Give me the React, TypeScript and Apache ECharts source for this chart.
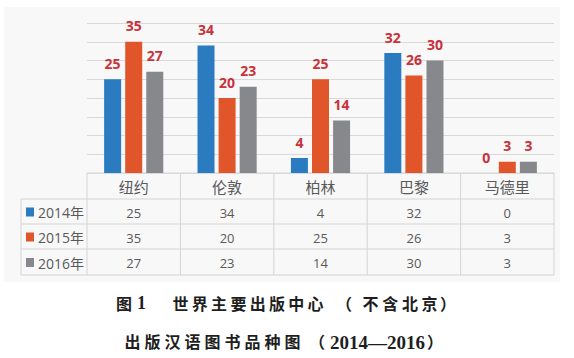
import React, { useEffect, useRef } from "react";
import * as echarts from "echarts";

const categories = ["纽约", "伦敦", "柏林", "巴黎", "马德里"];
const seriesNames = ["2014年", "2015年", "2016年"];
const values2014 = [25, 34, 4, 32, 0];
const values2015 = [35, 20, 25, 26, 3];
const values2016 = [27, 23, 14, 30, 3];
const captionFigure = ["图", "1"];
const captionTitle1 = "世界主要出版中心";
const captionParen1 = "不含北京";
const captionTitle2 = "出版汉语图书品种图";
const captionYears = "2014—2016";

const colors = ["#2b7bc1", "#e0562a", "#86888b"];
const allValues = [values2014, values2015, values2016];

export default function App() {
  const ref = useRef<HTMLDivElement>(null);
  useEffect(() => {
    if (!ref.current) return;
    const chart = echarts.init(ref.current, null, { renderer: "svg" });
    const W = 574;
    const gridLeft = 87;
    const gridRight = 554;
    const axisY = 173;
    const rowTops = [173, 199, 224, 249, 275];
    const tableLeft = 21;
    const colW = (gridRight - gridLeft) / categories.length;
    const lineColor = "#d4d4d4";
    const textColor = "#595959";
    const font = "'Open Sans', 'Noto Sans CJK SC', sans-serif";
    const cjk = "'Noto Sans CJK SC', sans-serif";
    const serif = "'Liberation Serif', serif";
    const capColor = "#1e1e1e";

    const graphics: any[] = [];
    graphics.push({
      type: "rect",
      z: -10,
      shape: { x: 4, y: 7, width: 556, height: 275 },
      style: { fill: "#f8f8f8" },
      silent: true,
    });
    for (let i = 0; i < rowTops.length; i++) {
      const x1 = i === 0 ? gridLeft : tableLeft;
      graphics.push({
        type: "line",
        shape: { x1, y1: rowTops[i], x2: gridRight, y2: rowTops[i] },
        style: { stroke: lineColor, lineWidth: 1 },
      });
    }
    graphics.push({
      type: "line",
      shape: { x1: tableLeft, y1: rowTops[1], x2: tableLeft, y2: rowTops[4] },
      style: { stroke: lineColor, lineWidth: 1 },
    });
    for (let c = 0; c <= categories.length; c++) {
      const x = gridLeft + c * colW;
      graphics.push({
        type: "line",
        shape: { x1: x, y1: rowTops[0], x2: x, y2: rowTops[4] },
        style: { stroke: lineColor, lineWidth: 1 },
      });
    }
    categories.forEach((cat, c) => {
      graphics.push({
        type: "text",
        x: gridLeft + (c + 0.5) * colW,
        y: (rowTops[0] + rowTops[1]) / 2 + 1,
        style: {
          text: cat,
          fill: textColor,
          font: `15px ${font}`,
          align: "center",
          verticalAlign: "middle",
        },
      });
    });
    seriesNames.forEach((name, r) => {
      const cy = (rowTops[r + 1] + rowTops[r + 2]) / 2 + 1;
      graphics.push({
        type: "rect",
        shape: { x: 26, y: cy - 5, width: 8, height: 9 },
        style: { fill: colors[r] },
      });
      graphics.push({
        type: "text",
        x: 38,
        y: cy,
        style: {
          text: name,
          fill: textColor,
          font: `14px ${font}`,
          align: "left",
          verticalAlign: "middle",
        },
      });
      allValues[r].forEach((v, c) => {
        graphics.push({
          type: "text",
          x: gridLeft + (c + 0.5) * colW,
          y: cy,
          style: {
            text: String(v),
            fill: textColor,
            font: `13px ${font}`,
            align: "center",
            verticalAlign: "middle",
          },
        });
      });
    });

    const txt = (s: string, x: number, y: number, f: string) => {
      graphics.push({
        type: "text",
        x,
        y,
        style: { text: s, fill: capColor, font: f, align: "left", verticalAlign: "middle" },
      });
    };
    const run = (s: string, x0: number, pitch: number, y: number, f: string) => {
      Array.from(s).forEach((ch, i) => txt(ch, x0 + i * pitch, y, f));
    };
    const cjkFont = `bold 16px ${cjk}`;
    const y1 = 303;
    const y2 = 341;
    txt(captionFigure[0], 116, y1, cjkFont);
    txt(captionFigure[1], 137, y1, `bold 18px ${serif}`);
    run(captionTitle1, 172.5, 19.3, y1, cjkFont);
    txt("（", 336, y1, cjkFont);
    run(captionParen1, 362.5, 19.7, y1, cjkFont);
    txt("）", 440, y1, cjkFont);

    run(captionTitle2, 124.5, 20, y2, cjkFont);
    txt("（", 309, y2, cjkFont);
    txt(captionYears, 330, y2 + 1, `bold 19px ${serif}`);
    txt("）", 427, y2, cjkFont);

    chart.setOption({
      animation: false,
      backgroundColor: "#ffffff",
      grid: {
        left: gridLeft,
        right: W - gridRight,
        top: 23,
        bottom: 358 - axisY,
        containLabel: false,
      },
      xAxis: {
        type: "category",
        data: categories,
        axisLine: { show: false },
        axisTick: { show: false },
        axisLabel: { show: false },
      },
      yAxis: {
        type: "value",
        min: 0,
        max: 40,
        interval: 5,
        axisLabel: { show: false },
        axisLine: { show: false },
        axisTick: { show: false },
        splitLine: { lineStyle: { color: "#d9d9d9", width: 1 } },
      },
      series: seriesNames.map((name, i) => ({
        name,
        type: "bar",
        data: allValues[i],
        barWidth: 17,
        barGap: "24%",
        itemStyle: { color: colors[i] },
        label: {
          show: true,
          position: "top",
          distance: 9,
          color: "#c8323a",
          fontWeight: "bold",
          fontSize: 14,
          fontFamily: font,
        },
      })),
      graphic: graphics,
    });
    return () => chart.dispose();
  }, []);
  return <div ref={ref} style={{ width: 574, height: 358, position: "absolute", left: 0, top: 0 }} />;
}
